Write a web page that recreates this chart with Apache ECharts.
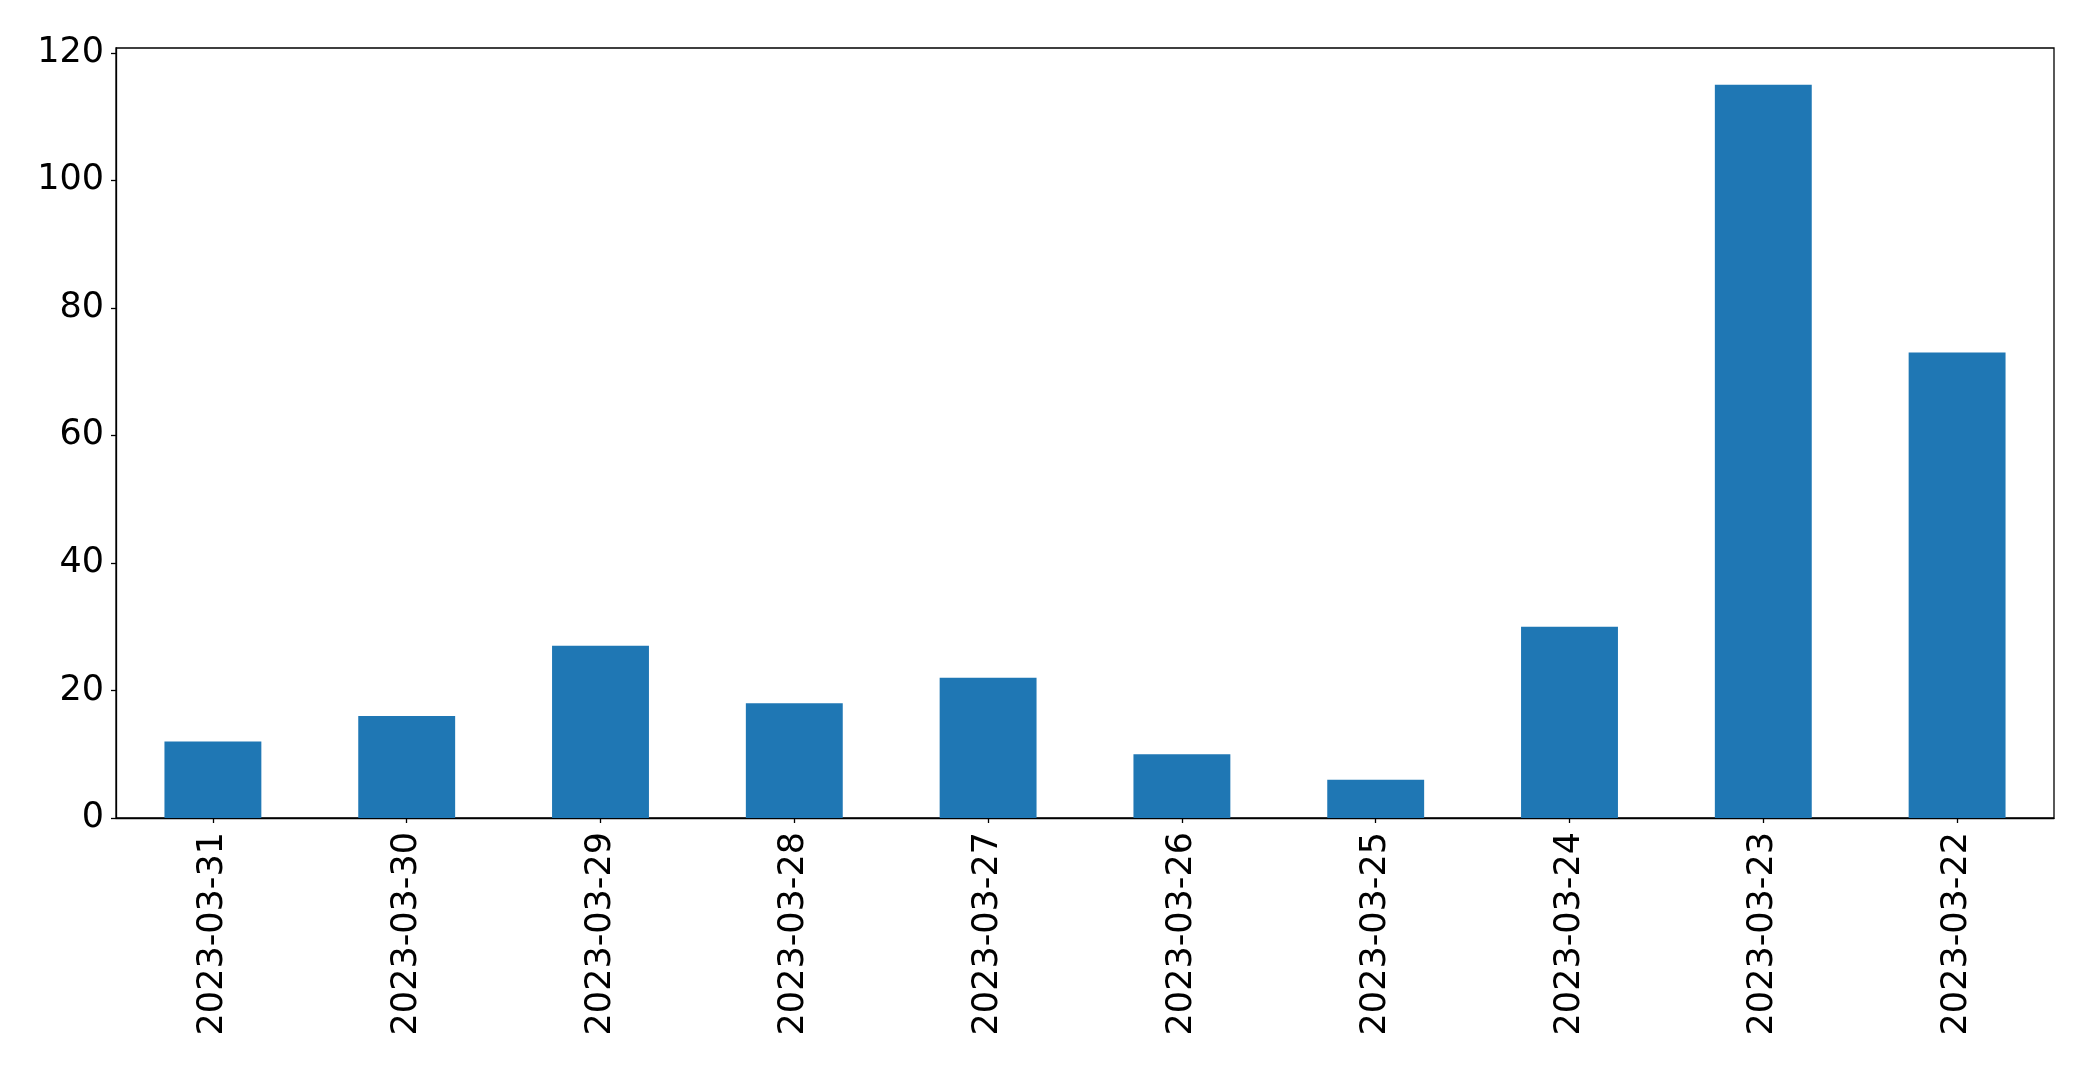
<!DOCTYPE html>
<html>
<head>
<meta charset="utf-8">
<script src="https://cdn.jsdelivr.net/npm/echarts@6/dist/echarts.min.js"></script>
<style>html,body{margin:0;padding:0;background:#fff;}#c{width:2093px;height:1070px;}</style>
</head>
<body>
<div id="c"></div>
<script>
const categories = ['2023-03-31','2023-03-30','2023-03-29','2023-03-28','2023-03-27','2023-03-26','2023-03-25','2023-03-24','2023-03-23','2023-03-22'];
const values = [12, 16, 27, 18, 22, 10, 6, 30, 115, 73];
const yTicks = [0, 20, 40, 60, 80, 100, 120];

const chart = echarts.init(document.getElementById('c'), null, {renderer: 'canvas'});
const font = 'DejaVu Sans';
chart.setOption({
  animation: false,
  backgroundColor: '#fff',
  grid: {left: 116, top: 48, right: 39, bottom: 252, show: true, borderColor: '#000', borderWidth: 1.3, backgroundColor: 'transparent'},
  xAxis: {
    type: 'category',
    data: categories,
    boundaryGap: true,
    axisLine: {show: true, lineStyle: {color: '#000', width: 1.3}},
    axisTick: {show: true, alignWithLabel: true, length: 5, lineStyle: {color: '#000', width: 1.3}},
    axisLabel: {rotate: 90, color: '#000', fontFamily: font, fontSize: 35, margin: 14, interval: 0},
    splitLine: {show: false}
  },
  yAxis: {
    type: 'value',
    min: 0,
    max: 120.75,
    interval: 20,
    axisLine: {show: true, lineStyle: {color: '#000', width: 1.3}},
    axisTick: {show: true, length: 5, lineStyle: {color: '#000', width: 1.3}, customValues: yTicks},
    axisLabel: {color: '#000', fontFamily: font, fontSize: 35, margin: 12, customValues: yTicks},
    splitLine: {show: false}
  },
  series: [{
    type: 'bar',
    data: values,
    barWidth: '50%',
    itemStyle: {color: '#1f77b4'}
  }]
});
</script>
</body>
</html>
